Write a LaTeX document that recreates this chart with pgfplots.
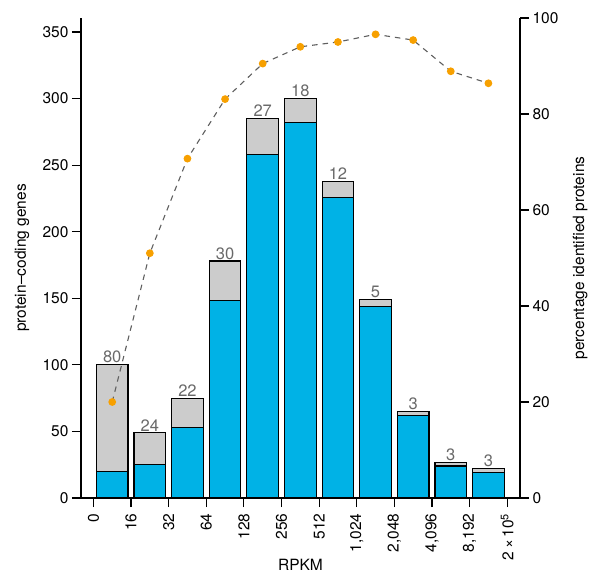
\documentclass[border=0pt]{standalone}
\usepackage{pgfplots}
\pgfplotsset{compat=1.18}
\usepackage{fontspec}
\setmainfont{TeX Gyre Heros}
\definecolor{barblue}{RGB}{0,178,230}
\definecolor{bargrey}{RGB}{204,204,204}
\definecolor{ptorange}{RGB}{247,160,0}
\definecolor{lblgrey}{RGB}{105,105,105}
\definecolor{linegrey}{RGB}{95,95,95}
\pgfplotsset{
  common/.style={
    scale only axis, width=439bp, height=480bp,
    at={(0,0)}, anchor=south west,
    xmin=-0.33, xmax=11.34,
    axis line style={-, line width=1.1bp},
    tick style={black, line width=1.1bp},
    tick align=outside, major tick length=9bp,
    /pgf/number format/assume math mode=true,
    ticklabel style={font=\fontsize{15.5bp}{18bp}\selectfont},
    label style={font=\fontsize{15.5bp}{18bp}\selectfont},
  }
}
\begin{document}
\begin{tikzpicture}[font=\fontsize{15.5bp}{18bp}\selectfont]
\begin{axis}[common,
  ymin=0, ymax=360.5,
  axis x line*=bottom, axis y line*=left,
  xtick={0,...,11},
  xticklabels={0,16,32,64,128,256,512,{1,024},{2,048},{4,096},{8,192},{2\,×\,10\textsuperscript{5}}},
  x tick label style={rotate=90, anchor=east, xshift=-3bp},
  ytick={0,50,...,350},
  xlabel={RPKM},
  xlabel style={at={(axis description cs:0.5,-0.1385)}, anchor=center},
  ylabel={protein–coding genes},
  ylabel style={at={(axis description cs:-0.1344,0.5)}, anchor=center},
]
\addplot[ybar, bar width=0.84, bar shift=0pt, fill=bargrey, draw=black, line width=1.1bp]
  coordinates {(0.5,100) (1.5,49) (2.5,75) (3.5,178) (4.5,285) (5.5,300) (6.5,238) (7.5,149) (8.5,65) (9.5,27) (10.5,22)};
\addplot[ybar, bar width=0.84, bar shift=0pt, fill=barblue, draw=black, line width=1.1bp]
  coordinates {(0.5,20) (1.5,25) (2.5,53) (3.5,148) (4.5,258) (5.5,282) (6.5,226) (7.5,144) (8.5,62) (9.5,24) (10.5,19)};
\addplot[draw=none, mark=none, nodes near coords, point meta=explicit symbolic,
  nodes near coords style={text=lblgrey, anchor=south, inner sep=1.5bp, font=\fontsize{16.5bp}{18bp}\selectfont}]
  coordinates {(0.5,100)[80] (1.5,49)[24] (2.5,75)[22] (3.5,178)[30] (4.5,285)[27] (5.5,300)[18] (6.5,238)[12] (7.5,149)[5] (8.5,65)[3] (9.5,27)[3] (10.5,22)[3]};
\end{axis}
\begin{axis}[common,
  ymin=0, ymax=100,
  axis y line*=right, axis x line=none,
  ytick={0,20,...,100},
  ylabel={percentage identified proteins},
  ylabel style={at={(axis description cs:1.1367,0.5)}, anchor=center},
]
\addplot[color=linegrey, line width=1.1bp, dash pattern=on 5.5bp off 5bp,
  mark=*, mark size=3.3bp, mark options={solid, fill=ptorange, draw=ptorange}]
  coordinates {(0.5,20.0) (1.5,51.0) (2.5,70.7) (3.5,83.1) (4.5,90.5) (5.5,94.0) (6.5,95.0) (7.5,96.6) (8.5,95.4) (9.5,88.9) (10.5,86.4)};
\end{axis}
\pgfresetboundingbox
\path[use as bounding box] (-81bp,-77bp) rectangle (508bp,498bp);
\end{tikzpicture}
\end{document}
